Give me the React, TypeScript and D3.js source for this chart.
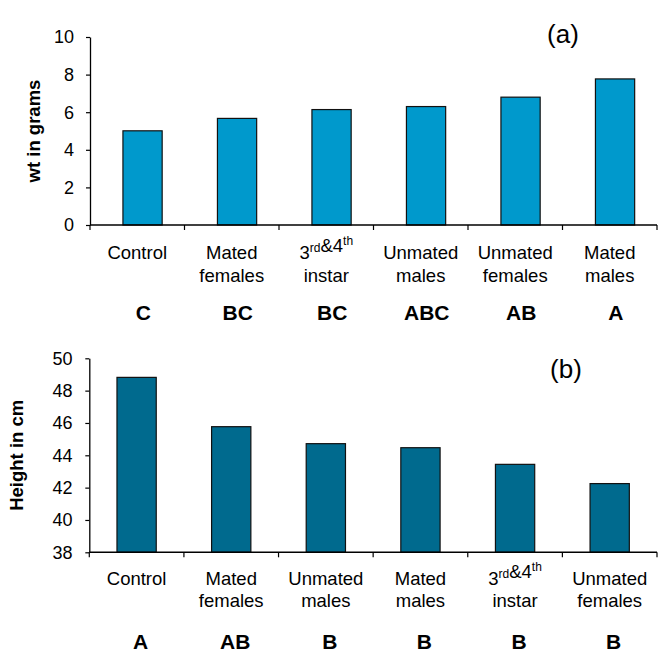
import { useEffect, useRef } from 'react';
import * as d3 from 'd3';

const W = 658, H = 655;
const FONT = 'Liberation Sans, Arial, Helvetica, sans-serif';

// panel (a): weight
const weightCats = ['Control', 'Mated females', '3rd&4th instar', 'Unmated males', 'Unmated females', 'Mated males'];
const weightVals = [5.01, 5.67, 6.14, 6.3, 6.8, 7.77];
const weightGroups = ['C', 'BC', 'BC', 'ABC', 'AB', 'A'];
const weightTicks = [0, 2, 4, 6, 8, 10];

// panel (b): height
const heightCats = ['Control', 'Mated females', 'Unmated males', 'Mated males', '3rd&4th instar', 'Unmated females'];
const heightVals = [48.82, 45.77, 44.72, 44.47, 43.44, 42.25];
const heightGroups = ['A', 'AB', 'B', 'B', 'B', 'B'];
const heightTicks = [38, 40, 42, 44, 46, 48, 50];

type Panel = {
  cats: string[];
  vals: number[];
  groups: string[];
  ticks: number[];
  domain: [number, number];
  x0: number; x1: number; yTop: number; yBot: number;
  barShift: number;
  groupShift: number;
  fill: string;
  title: string;
  titleX: number;
  tag: string;
  tagX: number; tagY: number;
  tickLabelX: number;
  line1: number; line2: number; groupY: number;
};

const panels: Panel[] = [
  {
    cats: weightCats, vals: weightVals, groups: weightGroups, ticks: weightTicks,
    domain: [0, 10], x0: 90, x1: 657, yTop: 37, yBot: 225,
    barShift: 5.3, groupShift: 6, fill: '#0099cc',
    title: 'wt in grams', titleX: 39.5,
    tag: '(a)', tagX: 563, tagY: 43, tickLabelX: 74,
    line1: 259, line2: 282, groupY: 320,
  },
  {
    cats: heightCats, vals: heightVals, groups: heightGroups, ticks: heightTicks,
    domain: [38, 50], x0: 89.3, x1: 657, yTop: 358.3, yBot: 552.3,
    barShift: 0, groupShift: 4, fill: '#006a8e',
    title: 'Height in cm', titleX: 22.5,
    tag: '(b)', tagX: 566, tagY: 378, tickLabelX: 72.5,
    line1: 585, line2: 607, groupY: 649,
  },
];

// split "Unmated females" into two lines
function labelLines(c: string): string[] {
  const i = c.indexOf(' ');
  return i < 0 ? [c] : [c.slice(0, i), c.slice(i + 1)];
}

// ordinal suffixes (rd, th) go up as superscripts
function writeLine(t: d3.Selection<SVGTextElement, unknown, null, undefined>, s: string) {
  const parts = s.split(/(\d)(rd|th)/).filter((p) => p !== '');
  parts.forEach((p) => {
    if (p === 'rd' || p === 'th') {
      t.append('tspan').attr('font-size', 12).attr('dy', -7).text(p);
      t.append('tspan').attr('dy', 7).text('');
    } else {
      t.append('tspan').text(p);
    }
  });
}

export default function App() {
  const svgRef = useRef<SVGSVGElement>(null);

  useEffect(() => {
    const svg = d3.select(svgRef.current);
    svg.selectAll('*').remove();
    svg.append('rect').attr('width', W).attr('height', H).attr('fill', '#fff');

    panels.forEach((p) => {
      const g = svg.append('g').attr('font-family', FONT).attr('fill', '#000');

      const x = d3.scaleBand<string>().domain(p.cats).range([p.x0, p.x1]).padding(0);
      const y = d3.scaleLinear().domain(p.domain).range([p.yBot, p.yTop]);
      const bw = x.bandwidth() * 0.415;

      // bars
      g.selectAll('rect.bar')
        .data(p.cats)
        .join('rect')
        .attr('class', 'bar')
        .attr('x', (d) => (x(d) as number) + (x.bandwidth() - bw) / 2 + p.barShift)
        .attr('width', bw)
        .attr('y', (_, i) => y(p.vals[i]))
        .attr('height', (_, i) => p.yBot - y(p.vals[i]))
        .attr('fill', p.fill)
        .attr('stroke', '#111')
        .attr('stroke-width', 1.2);

      // y axis
      g.append('g')
        .attr('transform', `translate(${p.x0},0)`)
        .call(d3.axisLeft(y).tickValues(p.ticks).tickSize(4).tickSizeOuter(0).tickFormat(d3.format('d')))
        .call((a) => {
          a.select('.domain').attr('stroke', '#000').attr('stroke-width', 1.3);
          a.selectAll('line').attr('stroke', '#000').attr('stroke-width', 1.2);
          a.selectAll('text').remove();
        });

      g.selectAll('text.ytick')
        .data(p.ticks)
        .join('text')
        .attr('class', 'ytick')
        .attr('x', p.tickLabelX)
        .attr('y', (d) => y(d))
        .attr('dy', '0.36em')
        .attr('text-anchor', 'end')
        .attr('font-size', 18)
        .text((d) => d);

      // x axis line with ticks at category boundaries
      g.append('line')
        .attr('x1', p.x0).attr('x2', p.x1)
        .attr('y1', p.yBot).attr('y2', p.yBot)
        .attr('stroke', '#000').attr('stroke-width', 1.5);
      const bounds = [...p.cats.map((c) => x(c) as number), p.x1];
      g.selectAll('line.xtick')
        .data(bounds)
        .join('line')
        .attr('class', 'xtick')
        .attr('x1', (d) => d).attr('x2', (d) => d)
        .attr('y1', p.yBot).attr('y2', p.yBot + 5)
        .attr('stroke', '#000').attr('stroke-width', 1.2);

      // category labels
      p.cats.forEach((c) => {
        const cx = (x(c) as number) + x.bandwidth() / 2;
        labelLines(c).forEach((ln, k) => {
          const t = g.append('text')
            .attr('x', cx)
            .attr('y', k === 0 ? p.line1 : p.line2)
            .attr('text-anchor', 'middle')
            .attr('font-size', 18.5);
          writeLine(t, ln);
        });
      });

      // significance letters
      g.selectAll('text.grp')
        .data(p.groups)
        .join('text')
        .attr('class', 'grp')
        .attr('x', (_, i) => (x(p.cats[i]) as number) + x.bandwidth() / 2 + p.groupShift)
        .attr('y', p.groupY)
        .attr('text-anchor', 'middle')
        .attr('font-size', 21)
        .attr('font-weight', 700)
        .text((d) => d);

      // y title
      g.append('text')
        .attr('transform', `translate(${p.titleX},${(p.yTop + p.yBot) / 2}) rotate(-90)`)
        .attr('text-anchor', 'middle')
        .attr('font-size', 18.5)
        .attr('font-weight', 700)
        .text(p.title);

      // panel tag
      g.append('text')
        .attr('x', p.tagX)
        .attr('y', p.tagY)
        .attr('text-anchor', 'middle')
        .attr('font-size', 26)
        .text(p.tag);
    });
  }, []);

  return (
    <svg
      ref={svgRef}
      width={W}
      height={H}
      viewBox={`0 0 ${W} ${H}`}
      style={{ position: 'absolute', left: 0, top: 0, display: 'block' }}
    />
  );
}
